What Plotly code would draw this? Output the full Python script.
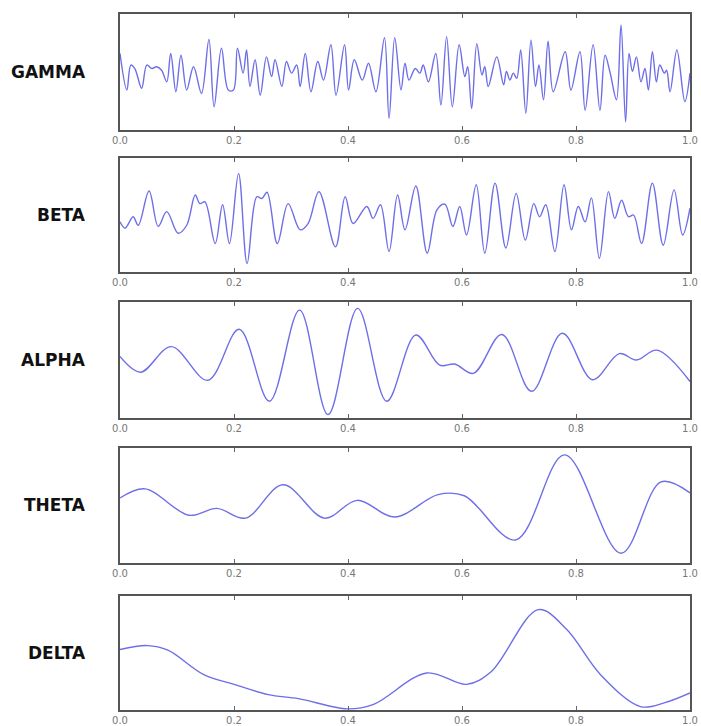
import plotly.graph_objects as go

band_names = ["GAMMA", "BETA", "ALPHA", "THETA", "DELTA"]
x_ticks = [0.0, 0.2, 0.4, 0.6, 0.8, 1.0]
x_tick_labels = ["0.0", "0.2", "0.4", "0.6", "0.8", "1.0"]

gamma_t = [0.000, 0.012, 0.019, 0.026, 0.038, 0.047, 0.056, 0.064, 0.073, 0.082,
           0.089, 0.098, 0.107, 0.117, 0.129, 0.143, 0.156, 0.165, 0.178, 0.190,
           0.199, 0.206, 0.216, 0.222, 0.228, 0.237, 0.246, 0.257, 0.266, 0.272,
           0.284, 0.292, 0.301, 0.310, 0.316, 0.325, 0.335, 0.347, 0.357, 0.370,
           0.379, 0.394, 0.401, 0.411, 0.425, 0.436, 0.449, 0.464, 0.472, 0.482,
           0.493, 0.500, 0.507, 0.518, 0.526, 0.532, 0.541, 0.554, 0.563, 0.573,
           0.583, 0.595, 0.605, 0.610, 0.617, 0.626, 0.635, 0.640, 0.646, 0.661,
           0.673, 0.678, 0.684, 0.690, 0.696, 0.703, 0.712, 0.721, 0.729, 0.735,
           0.743, 0.751, 0.760, 0.781, 0.791, 0.807, 0.816, 0.830, 0.842, 0.851,
           0.860, 0.871, 0.879, 0.887, 0.893, 0.899, 0.906, 0.914, 0.921, 0.927,
           0.934, 0.941, 0.947, 0.955, 0.959, 0.965, 0.977, 0.991, 1.000]
gamma_v = [0.32, -0.31, 0.12, 0.06, -0.28, 0.12, 0.06, 0.09, 0.03, -0.17,
           0.32, -0.34, 0.29, -0.31, 0.09, -0.37, 0.56, -0.60, 0.41, -0.31,
           -0.31, 0.41, -0.02, 0.38, -0.25, 0.21, -0.40, 0.26, -0.08, 0.21,
           -0.25, 0.18, -0.02, 0.12, -0.25, 0.32, -0.34, 0.18, -0.14, 0.47,
           -0.40, 0.47, -0.31, 0.21, -0.14, 0.15, -0.34, 0.59, -0.80, 0.59,
           -0.31, 0.15, -0.14, 0.06, -0.02, 0.12, -0.17, 0.32, -0.57, 0.61,
           -0.60, 0.47, -0.08, 0.09, -0.63, 0.49, -0.05, 0.09, -0.25, 0.26,
           -0.22, 0.01, -0.14, -0.02, -0.11, 0.38, -0.71, 0.55, -0.25, 0.12,
           -0.48, 0.53, -0.34, 0.35, -0.31, 0.35, -0.66, 0.47, -0.66, 0.29,
           -0.02, -0.48, 0.81, -0.86, 0.32, 0.01, 0.26, -0.17, 0.06, -0.31,
           0.35, -0.17, 0.12, -0.02, 0.03, -0.34, 0.38, -0.51, -0.02]

beta_t = [0.000, 0.009, 0.023, 0.032, 0.051, 0.067, 0.082, 0.102, 0.117, 0.132,
          0.140, 0.149, 0.167, 0.180, 0.192, 0.208, 0.223, 0.240, 0.249, 0.258,
          0.276, 0.295, 0.316, 0.330, 0.349, 0.378, 0.395, 0.409, 0.433, 0.444,
          0.457, 0.472, 0.487, 0.500, 0.519, 0.539, 0.556, 0.570, 0.584, 0.596,
          0.608, 0.625, 0.640, 0.658, 0.677, 0.695, 0.711, 0.726, 0.736, 0.747,
          0.763, 0.779, 0.792, 0.804, 0.816, 0.827, 0.841, 0.857, 0.868, 0.880,
          0.892, 0.901, 0.915, 0.934, 0.953, 0.972, 0.987, 1.000]
beta_v = [-0.12, -0.23, -0.03, -0.18, 0.42, -0.20, 0.06, -0.32, -0.18, 0.35,
          0.20, 0.23, -0.50, 0.18, -0.50, 0.73, -0.85, 0.32, 0.29, 0.40,
          -0.50, 0.20, -0.26, -0.15, 0.41, -0.56, 0.32, -0.15, 0.15, -0.06,
          0.18, -0.64, 0.35, -0.26, 0.51, -0.67, 0.09, 0.19, -0.20, 0.15,
          -0.35, 0.53, -0.67, 0.56, -0.58, 0.38, -0.44, 0.20, -0.03, 0.18,
          -0.64, 0.53, -0.26, 0.15, -0.12, 0.30, -0.76, 0.41, -0.06, 0.26,
          -0.03, 0.00, -0.50, 0.56, -0.53, 0.44, -0.35, 0.12]

alpha_t = [0.000, 0.036, 0.090, 0.154, 0.209, 0.262, 0.315, 0.365, 0.417, 0.468,
           0.519, 0.561, 0.587, 0.620, 0.670, 0.722, 0.776, 0.829, 0.876, 0.906,
           0.942, 1.000]
alpha_v = [0.06, -0.21, 0.23, -0.35, 0.53, -0.71, 0.86, -0.94, 0.89, -0.71,
           0.43, -0.09, -0.07, -0.23, 0.44, -0.54, 0.46, -0.34, 0.11, 0.00,
           0.17, -0.37]

theta_t = [0.000, 0.044, 0.121, 0.170, 0.220, 0.286, 0.359, 0.416, 0.482, 0.558,
           0.604, 0.694, 0.780, 0.879, 0.949, 1.000]
theta_v = [0.13, 0.29, -0.17, -0.05, -0.22, 0.36, -0.22, 0.09, -0.20, 0.19,
           0.17, -0.60, 0.88, -0.83, 0.41, 0.22]

delta_t = [0.000, 0.048, 0.084, 0.147, 0.200, 0.260, 0.313, 0.399, 0.445, 0.538,
           0.608, 0.651, 0.734, 0.783, 0.843, 0.913, 0.956, 1.000]
delta_v = [0.06, 0.13, 0.05, -0.38, -0.55, -0.73, -0.80, -0.98, -0.90, -0.35,
           -0.55, -0.33, 0.76, 0.42, -0.38, -0.94, -0.87, -0.70]

series = [(gamma_t, gamma_v), (beta_t, beta_v), (alpha_t, alpha_v),
          (theta_t, theta_v), (delta_t, delta_v)]

W, H = 701, 726
left_px, right_px = 120, 690
panels_px = [(14, 130), (158, 272), (302, 418), (448, 563), (596, 710)]

fig = go.Figure()
layout = {}
for i, ((t, v), name, (top, bot)) in enumerate(zip(series, band_names, panels_px)):
    n = i + 1
    xa = "x" if n == 1 else f"x{n}"
    ya = "y" if n == 1 else f"y{n}"
    fig.add_trace(go.Scatter(
        x=t, y=v, mode="lines", xaxis=xa, yaxis=ya,
        line=dict(color="#6e6ee8", width=1.4, shape="spline", smoothing=1.0),
        showlegend=False, hoverinfo="skip"))
    xkey = "xaxis" if n == 1 else f"xaxis{n}"
    ykey = "yaxis" if n == 1 else f"yaxis{n}"
    layout[xkey] = dict(
        domain=[left_px / W, right_px / W], anchor=ya, range=[0, 1],
        tickvals=x_ticks, ticktext=x_tick_labels,
        ticks="inside", ticklen=4, tickcolor="#666", mirror="ticks",
        showline=True, linecolor="#555", linewidth=1.5,
        showgrid=False, zeroline=False, automargin=False,
        tickfont=dict(family="DejaVu Sans", size=10, color="#777"),
    )
    layout[ykey] = dict(
        domain=[1 - bot / H, 1 - top / H], anchor=xa, range=[-1, 1],
        showticklabels=False, ticks="", mirror=True,
        showline=True, linecolor="#555", linewidth=1.5,
        showgrid=False, zeroline=False, automargin=False,
    )
    fig.add_annotation(
        text=f"<b>{name}</b>", xref="paper", yref="paper",
        x=88 / W, y=1 - ((top + bot) / 2) / H, xanchor="right", yanchor="middle",
        showarrow=False, font=dict(family="DejaVu Sans", size=17, color="#111"))

fig.update_layout(
    width=W, height=H, margin=dict(l=0, r=0, t=0, b=0),
    paper_bgcolor="white", plot_bgcolor="white", hovermode=False, **layout)

fig.write_html(
    "out.html",
    config={"displayModeBar": False},
    post_script="document.body.style.margin='0';document.body.style.overflow='hidden';",
)
